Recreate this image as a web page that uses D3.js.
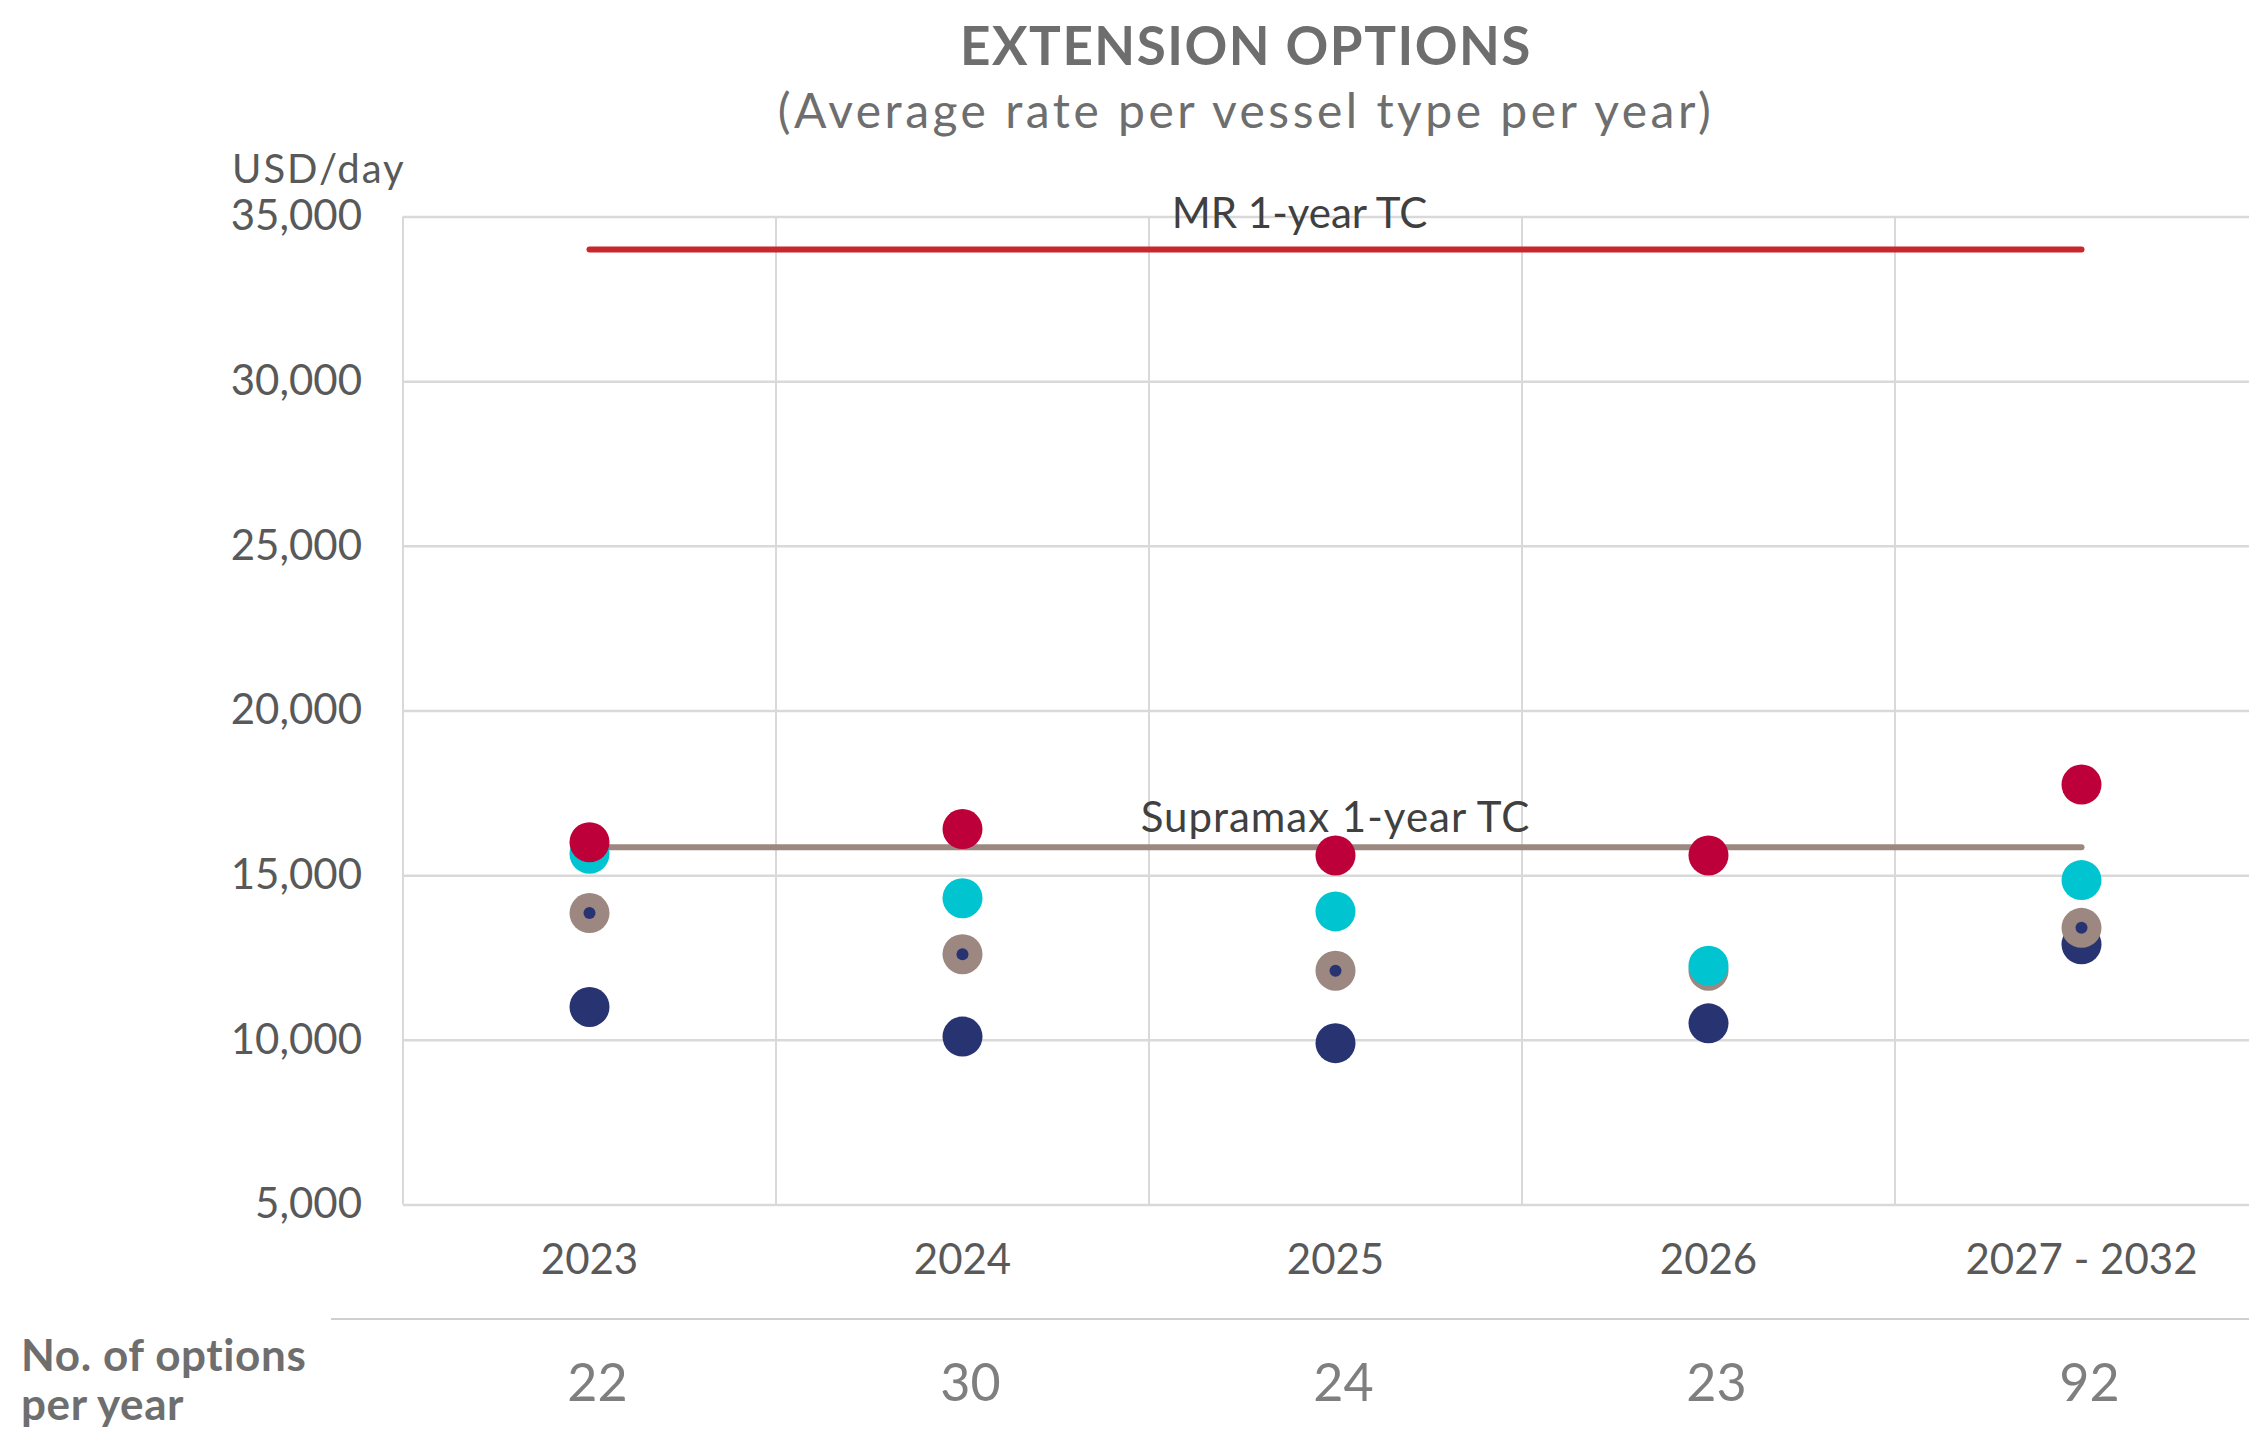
<!DOCTYPE html>
<html>
<head>
<meta charset="utf-8">
<script src="https://cdn.jsdelivr.net/npm/d3@7"></script>
<style>
  body { margin: 0; background: #fff; }
  svg { display: block; font-family: Lato, "Open Sans", sans-serif; }
</style>
</head>
<body>
<script>
// chart data
const categories = ["2023", "2024", "2025", "2026", "2027 - 2032"];
const redRates = [16000, 16400, 15600, 15600, 17750];
const cyanRates = [15650, 14300, 13900, 12250, 14850];
const taupeRates = [13850, 12600, 12100, 12100, 13400];
const navyRates = [11000, 10100, 9900, 10500, 12900];
const optionCounts = [22, 30, 24, 23, 92];
const mrRate = 34000;
const supramaxRate = 15850;
const yTicks = [5000, 10000, 15000, 20000, 25000, 30000, 35000];

// spacing
width = 2249;
height = 1440;
margin = ({top: 216.5, left: 403});
plot_width = 1865;
plot_height = 988;

const xScale = d3.scaleBand(categories, [margin.left, margin.left + plot_width]);
const yScale = d3.scaleLinear([5000, 35000], [margin.top + plot_height, margin.top]);
const cx = c => xScale(c) + xScale.bandwidth() / 2;

const svg = d3.select("body").append("svg")
    .attr("width", width)
    .attr("height", height)
    .attr("viewBox", [0, 0, width, height]);

// title
svg.append("text")
    .attr("x", 1246).attr("y", 65)
    .attr("text-anchor", "middle")
    .attr("fill", "#6e6e6e")
    .attr("font-size", 53).attr("font-weight", 700)
    .attr("letter-spacing", 1.5)
    .text("EXTENSION OPTIONS");
svg.append("text")
    .attr("x", 1246).attr("y", 128)
    .attr("text-anchor", "middle")
    .attr("fill", "#6e6e6e")
    .attr("font-size", 48)
    .attr("letter-spacing", 3.5)
    .text("(Average rate per vessel type per year)");
svg.append("text")
    .attr("x", 232).attr("y", 183)
    .attr("fill", "#595959")
    .attr("font-size", 40)
    .attr("letter-spacing", 2)
    .text("USD/day");

// vertical grid at band edges
svg.append("g")
    .attr("stroke", "#d9d9d9")
    .attr("stroke-width", 2)
    .selectAll("line")
    .data(categories)
    .join("line")
    .attr("x1", d => xScale(d)).attr("x2", d => xScale(d))
    .attr("y1", margin.top).attr("y2", margin.top + plot_height);

// y axis with grid
svg.append("g")
    .attr("transform", `translate(${margin.left},0)`)
    .call(d3.axisLeft(yScale).tickValues(yTicks).tickFormat(d3.format(",")).tickSize(0).tickPadding(41))
    .call(g => g.select(".domain").remove())
    .call(g => g.selectAll(".tick line").clone()
        .attr("x2", width - margin.left)
        .attr("stroke", "#d9d9d9")
        .attr("stroke-width", 2.5))
    .call(g => g.selectAll(".tick text")
        .attr("fill", "#595959")
        .attr("font-size", 42)
        .attr("font-family", "Lato"));

// x axis labels
svg.append("g")
    .attr("transform", `translate(0,${margin.top + plot_height})`)
    .call(d3.axisBottom(xScale).tickSize(0).tickPadding(40))
    .call(g => g.select(".domain").remove())
    .call(g => g.selectAll(".tick text")
        .attr("fill", "#595959")
        .attr("font-size", 42)
        .attr("font-family", "Lato"));

// reference lines
const refLine = (rate, color) => svg.append("line")
    .attr("x1", cx(categories[0])).attr("x2", cx(categories[categories.length - 1]))
    .attr("y1", yScale(rate)).attr("y2", yScale(rate))
    .attr("stroke", color).attr("stroke-width", 6).attr("stroke-linecap", "round");
refLine(mrRate, "#c8282d");
refLine(supramaxRate, "#9c8880");

const midX = (cx(categories[0]) + cx(categories[categories.length - 1])) / 2;
svg.append("text")
    .attr("x", midX - 36).attr("y", yScale(mrRate) - 21)
    .attr("text-anchor", "middle")
    .attr("fill", "#404040").attr("font-size", 42)
    .text("MR 1-year TC");
svg.append("text")
    .attr("x", midX).attr("y", yScale(supramaxRate) - 15)
    .attr("text-anchor", "middle")
    .attr("fill", "#404040").attr("font-size", 42)
    .attr("letter-spacing", 1)
    .text("Supramax 1-year TC");

// dots, drawn bottom to top
function dots(values, color, innerDot)
{
    const g = svg.append("g");
    g.selectAll("circle")
        .data(values)
        .join("circle")
        .attr("cx", (d, i) => cx(categories[i]))
        .attr("cy", d => yScale(d))
        .attr("r", 20)
        .attr("fill", color);
    if (innerDot)
    {
        g.selectAll(".inner")
            .data(values)
            .join("circle")
            .attr("class", "inner")
            .attr("cx", (d, i) => cx(categories[i]))
            .attr("cy", d => yScale(d))
            .attr("r", 6)
            .attr("fill", "#283371");
    }
}
dots(navyRates, "#283371", false);
dots(taupeRates, "#9c8880", true);
dots(cyanRates, "#00c4cf", false);
dots(redRates, "#be003a", false);

// options table
svg.append("line")
    .attr("x1", 331).attr("x2", width)
    .attr("y1", 1319).attr("y2", 1319)
    .attr("stroke", "#d0d0d0").attr("stroke-width", 2);
const rowLabel = svg.append("text")
    .attr("fill", "#6e6e6e").attr("font-size", 44).attr("font-weight", 700)
    .attr("letter-spacing", 0.6);
rowLabel.append("tspan").attr("x", 21).attr("y", 1371).text("No. of options");
rowLabel.append("tspan").attr("x", 21).attr("y", 1420).text("per year");
svg.append("g")
    .selectAll("text")
    .data(optionCounts)
    .join("text")
    .attr("x", (d, i) => cx(categories[i]) + 8)
    .attr("y", 1401)
    .attr("text-anchor", "middle")
    .attr("fill", "#7f7f7f")
    .attr("font-size", 52)
    .text(d => d);
</script>
</body>
</html>
